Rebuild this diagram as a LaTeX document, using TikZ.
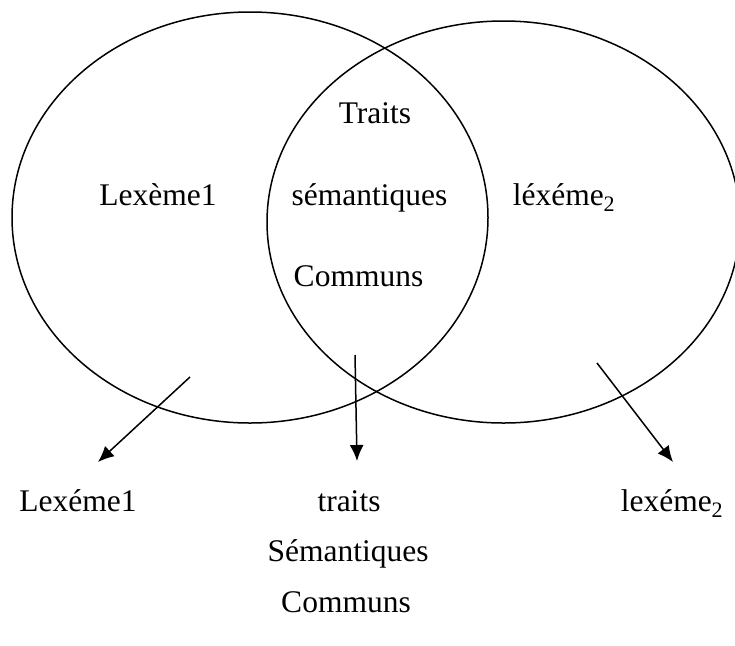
\documentclass[tikz,border=0pt]{standalone}
\usepackage{fontspec}
\setmainfont{Liberation Serif}
\usetikzlibrary{arrows.meta}
\begin{document}
\begin{tikzpicture}[x=1pt,y=-1pt,
  lbl/.style={anchor=base,inner sep=0pt,font=\fontsize{31.5}{38}\selectfont},
  circ/.style={draw=black,line width=1.5pt},
  arr/.style={draw=black,line width=1.5pt,-{Latex[length=16pt,width=14pt]}}]
\useasboundingbox (0,0) rectangle (735,645);
\draw[circ] (250,217.5) ellipse [x radius=238,y radius=205.5];
\draw[circ] (503.5,222) ellipse [x radius=236.5,y radius=201];
% texts inside
\node[lbl] (traitsA) at (375,123) {Traits};
\node[lbl] (lex1A) at (158,205) {Lexème1};
\node[lbl] (semA) at (369.5,205) {sémantiques};
\node[lbl] (lex2A) at (564,205) {léxéme\textsubscript{2}};
\node[lbl] (comA) at (358.5,286) {Communs};
% texts below
\node[lbl] (lex1B) at (78,511) {Lexéme1};
\node[lbl] (traitsB) at (349,511) {traits};
\node[lbl] (lex2B) at (672,511) {lexéme\textsubscript{2}};
\node[lbl] (semB) at (348,561) {Sémantiques};
\node[lbl] (comB) at (346,612) {Communs};
% arrows
\coordinate (a1s) at (190,377);
\coordinate (a1e) at (98,462);
\coordinate (a2s) at (355,355);
\coordinate (a2e) at (357,461);
\coordinate (a3s) at (597,363);
\coordinate (a3e) at (673,462);
\draw[arr] (a1s) -- (a1e);
\draw[arr] (a2s) -- (a2e);
\draw[arr] (a3s) -- (a3e);
\end{tikzpicture}
\end{document}
